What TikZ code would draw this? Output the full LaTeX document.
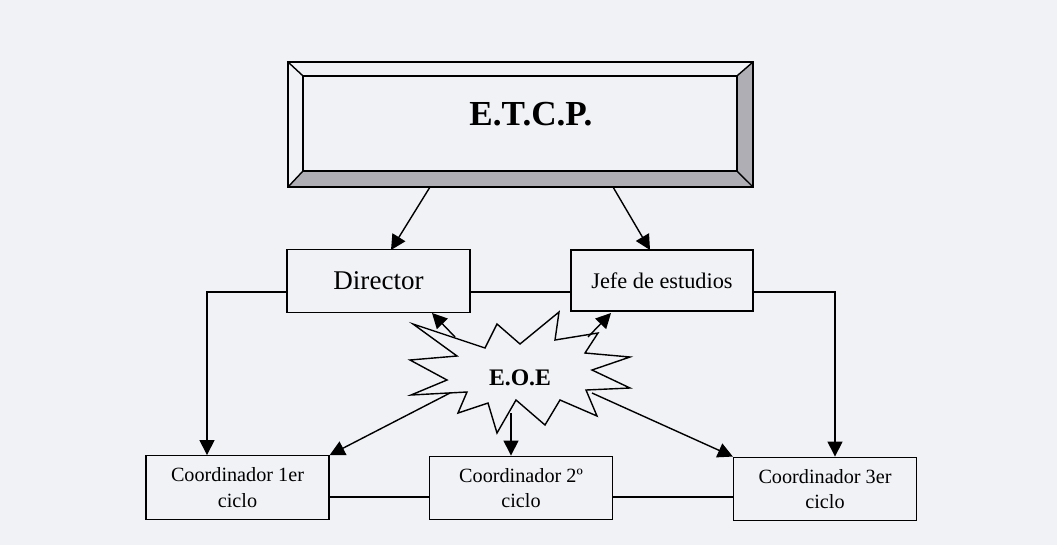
\documentclass[tikz,border=0pt]{standalone}
\usepackage{fontspec}
\setmainfont{Liberation Serif}
\usetikzlibrary{arrows.meta}
\definecolor{paper}{RGB}{241,242,246}
\definecolor{bevel}{RGB}{174,174,180}

\begin{document}
\begin{tikzpicture}[x=0.02cm, y=-0.02cm, line width=0.8pt,
    box/.style={draw, minimum width=3.66cm, minimum height=1.27cm, inner sep=0pt,
      align=center, font=\fontsize{11.5}{14.5}\selectfont},
    arr/.style={-{Triangle[length=0.3cm, width=0.3cm]}}]
        % Fondo
        \fill[paper] (0,0) rectangle (1057,545);

        % E.T.C.P. (marco biselado)
        \node[draw, minimum width=8.68cm, minimum height=1.9cm] (etcp) at (520,123.5) {};
        \coordinate (o1) at (288,62);
        \coordinate (o2) at (753,62);
        \coordinate (o3) at (753,187);
        \coordinate (o4) at (288,187);
        \fill[bevel] (etcp.south west) -- (etcp.south east) -- (o3) -- (o4) -- cycle;
        \fill[bevel] (etcp.north east) -- (o2) -- (o3) -- (etcp.south east) -- cycle;
        \draw (o1) rectangle (o3);
        \draw (etcp.north west) rectangle (etcp.south east);
        \draw (o1) -- (etcp.north west);
        \draw (o2) -- (etcp.north east);
        \draw (o3) -- (etcp.south east);
        \draw (o4) -- (etcp.south west);
        \node[font=\fontsize{20}{24}\selectfont\bfseries] (etcptxt) at (531,114) {E.T.C.P.};

        % Director y Jefe de estudios
        \node[box, font=\fontsize{15.4}{18}\selectfont] (dir) at (378.5,281) {Director};
        \node[box, minimum width=3.64cm, minimum height=1.22cm,
          font=\fontsize{12.7}{15}\selectfont] (jefe) at (662,280.5) {Jefe de estudios};
        \draw[arr] (430,187) -- (391,250);
        \draw[arr] (613,187) -- (650,250);

        % Coordinadores
        \node[box] (c1) at (237.5,487.5) {Coordinador 1er\\ciclo};
        \node[box] (c2) at (521,488) {Coordinador 2º\\ciclo};
        \node[box] (c3) at (825,489) {Coordinador 3er\\ciclo};

        % Lineas de union
        \coordinate (lft) at (207,292);
        \coordinate (rgt) at (835,292);
        \draw (dir.east |- lft) -- (jefe.west |- lft);
        \draw[arr] (dir.west |- lft) -- (lft) -- (lft |- c1.north);
        \draw[arr] (jefe.east |- rgt) -- (rgt) -- (rgt |- c3.north);
        \draw (c1.east |- 0,497) -- (c2.west |- 0,497);
        \draw (c2.east |- 0,497) -- (c3.west |- 0,497);

        % E.O.E (estrella)
        \draw[fill=paper] (413,324) -- (485,348) -- (497,324) -- (520,344) -- (559,312)
          -- (555,340) -- (598,333) -- (585,353) -- (630,357) -- (592,370) -- (630,388)
          -- (586,390) -- (597,416) -- (560,400) -- (545,425) -- (516,400) -- (497,433)
          -- (488,403) -- (458,413) -- (467,392) -- (411,395) -- (447,380) -- (410,360)
          -- (457,356) -- cycle;
        \node[font=\fontsize{13.5}{16}\selectfont\bfseries] (eoe) at (520,378) {E.O.E};
        \coordinate (s1) at (455,337);
        \coordinate (s2) at (588,337);
        \coordinate (s3) at (450,393);
        \coordinate (s4) at (511,413);
        \coordinate (s5) at (592,393);
        \draw[arr] (s1) -- (432,313);
        \draw[arr] (s2) -- (611,313);
        \draw[arr] (s3) -- (c1.north east);
        \draw[arr] (s4) -- (s4 |- c2.north);
        \draw[arr] (s5) -- (c3.north west);
    \end{tikzpicture}
\end{document}
